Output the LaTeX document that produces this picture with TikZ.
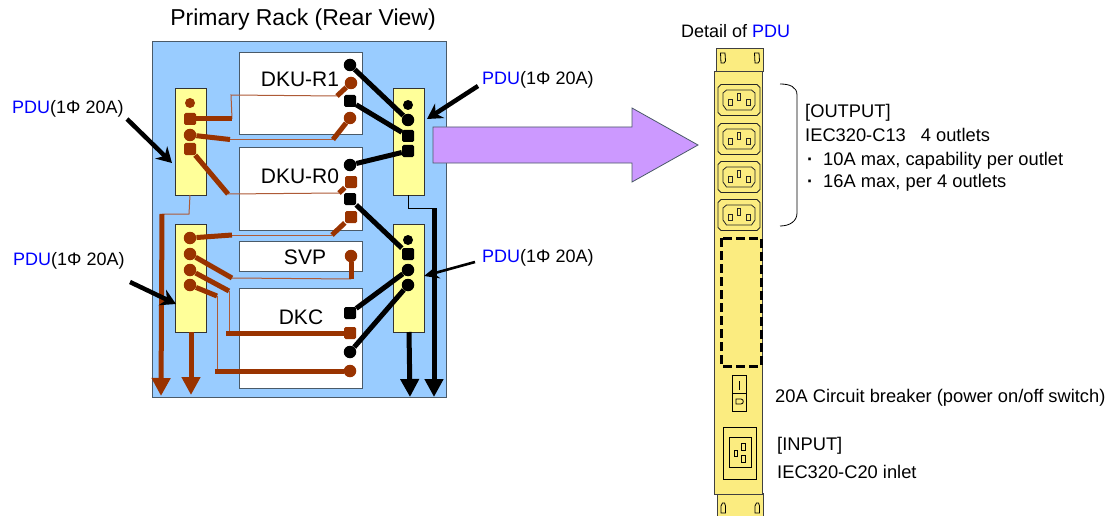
\documentclass[tikz,border=0pt]{standalone}
\usepackage{fontspec}
\setmainfont{Liberation Sans}
\usetikzlibrary{arrows.meta}
\definecolor{rackblue}{HTML}{99CCFF}
\definecolor{pduyel}{HTML}{FFFF99}
\definecolor{detyel}{HTML}{FBEC80}
\definecolor{brn}{HTML}{993300}
\definecolor{thinbrn}{HTML}{AE5A36}
\definecolor{arrowpur}{HTML}{CC99FF}
\definecolor{edgegray}{HTML}{4A5A68}
\definecolor{pdublue}{HTML}{0000FF}
\newcommand{\pdulab}{\textcolor{pdublue}{PDU}(1Φ 20A)}
\newcommand{\dotitem}[1]{\makebox[18pt][l]{\hspace{2pt}\bfseries ·}#1}
\newcommand{\outletshape}[1]{%
  \begin{scope}[shift={(739,#1)},line width=0.8pt,draw=black!85]
    \draw (-18,-15.5) -- (18,-15.5) -- (21,-12.5) -- (21,12.5) -- (18,15.5) -- (-18,15.5) -- (-21,12.5) -- (-21,-12.5) -- cycle;
    \draw (-12.5,-10) -- (12.5,-10) -- (16,-7) -- (16,5) -- (12.5,10) -- (-12.5,10) -- (-16,5) -- (-16,-7) -- cycle;
    \draw (-11,-0.5) rectangle (-7,5);
    \draw (-1.5,-7) rectangle (1.5,0);
    \draw (7,-0.5) rectangle (11,5);
  \end{scope}}
\tikzset{
  x=1pt,y=-1pt,
  box/.style={draw=edgegray,line width=0.9pt,fill=white},
  pdubox/.style={draw=black!80,line width=0.9pt,fill=pduyel},
  lab/.style={inner sep=0pt,font=\fontsize{18}{18}\selectfont},
  biglab/.style={inner sep=0pt,font=\fontsize{21}{21}\selectfont},
  titlelab/.style={inner sep=0pt,font=\fontsize{23}{23}\selectfont},
  dettxt/.style={inner sep=0pt,anchor=west,font=\fontsize{18.3}{18.3}\selectfont},
  brnplug/.style={circle,fill=brn,inner sep=0pt,minimum size=12.5pt},
  brnsq/.style={rectangle,rounded corners=1.5pt,fill=brn,inner sep=0pt,minimum size=12pt},
  blkplug/.style={circle,fill=black,inner sep=0pt,minimum size=12.5pt},
  blksq/.style={rectangle,rounded corners=1.5pt,fill=black,inner sep=0pt,minimum size=12pt},
  bthick/.style={draw=brn,line width=5pt},
  bthin/.style={draw=thinbrn,line width=1pt},
  kthick/.style={draw=black,line width=5pt},
  kthin/.style={draw=black,line width=1pt},
  bdown/.style={draw=brn,line width=5pt,-{Triangle[width=18pt,length=18pt]}},
  kdown/.style={draw=black,line width=5pt,-{Triangle[width=18pt,length=18pt]}},
  lead/.style={draw=black,line width=4.5pt,-{Stealth[width=17pt,length=15pt]}},
  leadthin/.style={draw=black,line width=2.6pt,-{Stealth[width=13pt,length=15pt]}},
}
\begin{document}
\begin{tikzpicture}
\useasboundingbox (0,0) rectangle (1116,516);
% rack
\node[titlelab] (title) at (303,20) {Primary Rack (Rear View)};
\filldraw[fill=rackblue,draw=edgegray,line width=1pt] (152,42) rectangle (446,397);
\draw[box] (239,52) rectangle (362,134);
\draw[box] (239,147) rectangle (362,230);
\draw[box] (239,241) rectangle (362,271);
\draw[box] (239,288) rectangle (362,388);
\node[biglab] (dkur1) at (300,79) {DKU-R1};
\node[biglab] (dkur0) at (300,176) {DKU-R0};
\node[biglab] (svp) at (305,257) {SVP};
\node[biglab] (dkc) at (301,317) {DKC};
% PDUs
\draw[pdubox] (175,88) rectangle (206,195);
\draw[pdubox] (175,224) rectangle (206,332);
\draw[pdubox] (393,88) rectangle (424,195);
\draw[pdubox] (393,224) rectangle (424,332);
\coordinate (ltb) at (190,195);
\coordinate (lbb) at (191,332);
\coordinate (rtb) at (408,195);
\coordinate (rbb) at (409,332);
% plugs: left top
\node[brnplug,minimum size=10pt] (lt0) at (190,103) {};
\node[brnsq] (lt1) at (190,119) {};
\node[brnplug] (lt2) at (190,135) {};
\node[brnsq] (lt3) at (190,149) {};
% left bottom
\node[brnplug] (lb0) at (190,238) {};
\node[brnplug] (lb1) at (190,254) {};
\node[brnplug] (lb2) at (190,270) {};
\node[brnplug] (lb3) at (190,285) {};
% right top
\node[blkplug,minimum size=10pt] (rt0) at (408,105) {};
\node[blkplug] (rt1) at (408,120) {};
\node[blksq] (rt2) at (408,136) {};
\node[blksq] (rt3) at (408,151) {};
% right bottom
\node[blkplug,minimum size=10pt] (rb0) at (408,240) {};
\node[blksq] (rb1) at (408,254) {};
\node[blkplug] (rb2) at (408,270) {};
\node[blkplug] (rb3) at (408,285) {};
% device plugs
\node[blkplug] (r1a) at (350,65) {};
\node[brnplug] (r1b) at (351,83) {};
\node[blksq] (r1c) at (350,101) {};
\node[brnplug] (r1d) at (350,118) {};
\node[blkplug] (r0a) at (350,165) {};
\node[brnsq] (r0b) at (351,182) {};
\node[blksq] (r0c) at (350,199) {};
\node[brnsq] (r0d) at (351,217) {};
\node[brnplug] (sv) at (351,256) {};
\node[blksq] (dk1) at (350,313) {};
\node[brnsq] (dk2) at (350,333) {};
\node[blkplug] (dk3) at (350,352) {};
\node[brnplug] (dk4) at (350,371) {};
% black cords
\draw[kthick] (r1a) -- (rt1);
\draw[kthick] (r1c) -- (rt2);
\draw[kthick] (r0a) -- (rt3);
\draw[kthick] (r0c) -- (rb1);
\draw[kthick] (dk1) -- (rb2);
\draw[kthick] (dk3) -- (rb3);
% brown routed cords
\coordinate (a1) at (232,119); \coordinate (a2) at (231,95); \coordinate (a3) at (337,96);
\draw[bthin] (a1) -- (a2) -- (a3);
\draw[bthick] (lt1) -- (a1);
\draw[bthick] (a3) -- (r1b);
\coordinate (b1) at (230,139.5); \coordinate (b2) at (333,139.5);
\draw[bthin] (b1) -- (b2);
\draw[bthick] (lt2) -- (b1);
\draw[bthick] (b2) -- (r1d);
\coordinate (c1) at (228,194); \coordinate (c2) at (339,193);
\draw[bthin] (c1) -- (c2);
\draw[bthick] (lt3) -- (c1);
\draw[bthick] (c2) -- (r0b);
\coordinate (d1) at (232,235); \coordinate (d2) at (332,235);
\draw[bthin] (d1) -- (d2);
\draw[bthick] (lb0) -- (d1);
\draw[bthick] (d2) -- (r0d);
\coordinate (e1) at (232,278); \coordinate (e2) at (351,279);
\draw[bthin] (e1) -- (e2);
\draw[bthick] (lb1) -- (e1);
\draw[bthick] (e2) -- (sv);
\coordinate (f1) at (229,291); \coordinate (f2) at (229,333);
\draw[bthin] (f1) -- (f2);
\draw[bthick] (lb2) -- (f1);
\draw[bthick] (226,333) -- (dk2);
\coordinate (g1) at (217,296); \coordinate (g2) at (217,371);
\draw[bthin] (g1) -- (g2);
\draw[bthick] (lb3) -- (g1);
\draw[bthick] (215,371) -- (dk4);
% feeds
\coordinate (h1) at (189,214); \coordinate (h2) at (162,214); \coordinate (h3) at (161,396);
\draw[bthin] (ltb) -- (h1) -- (h2);
\draw[bdown] (h2) -- (h3);
\coordinate (i1) at (191,395);
\draw[bdown] (lbb) -- (i1);
\coordinate (j1) at (408,208); \coordinate (j2) at (434,208); \coordinate (j3) at (434,397);
\draw[kthin] (rtb) -- (j1) -- (j2);
\draw[kdown] (j2) -- (j3);
\coordinate (k1) at (410,397);
\draw[kdown] (rbb) -- (k1);
% labels
\node[lab,anchor=west] (l1) at (12,109) {\pdulab};
\node[lab,anchor=west] (l2) at (482,80) {\pdulab};
\node[lab,anchor=west] (l3) at (13,261) {\pdulab};
\node[lab,anchor=west] (l4) at (482,258) {\pdulab};
\coordinate (l1s) at (127,119); \coordinate (l1t) at (172,163);
\coordinate (l2s) at (478,86); \coordinate (l2t) at (427,119);
\coordinate (l3s) at (130,282); \coordinate (l3t) at (176,304);
\coordinate (l4s) at (475,262); \coordinate (l4t) at (424,276);
\draw[lead] (l1s) -- (l1t);
\draw[lead] (l2s) -- (l2t);
\draw[lead] (l3s) -- (l3t);
\draw[leadthin] (l4s) -- (l4t);
% big arrow
\filldraw[fill=arrowpur,draw=edgegray,line width=0.8pt] (433,127) -- (632,127) -- (632,108) -- (698,145) -- (632,182) -- (632,163) -- (433,163) -- cycle;
% detail
\node[lab,anchor=west] (dt) at (681,31) {Detail of \textcolor{pdublue}{PDU}};
\filldraw[fill=detyel,draw=black!75,line width=0.7pt] (716,48) rectangle (763,71);
\filldraw[fill=detyel,draw=black!75,line width=0.7pt] (717,493) -- (717,516) -- (763,516) -- (763,493);
\filldraw[fill=detyel,draw=black!75,line width=0.8pt] (714,71) rectangle (762,494);
\foreach \sx in {720.5,754.5}{
  \draw[line width=0.8pt] (\sx,53) -- (\sx+4.5,53) -- (\sx+5,61) -- (\sx+3.5,63) -- (\sx+0.5,63) -- cycle;
  \draw[line width=0.8pt] (\sx+0.5,513) -- (\sx+0.5,506) -- (\sx+2,503) -- (\sx+4,503) -- (\sx+5,506) -- (\sx+5,513) -- cycle;
}
\outletshape{100}
\outletshape{139}
\outletshape{177}
\outletshape{215}
\draw[line width=3pt,dash pattern=on 9pt off 4pt] (721,238) rectangle (761,366);
% breaker
\draw[line width=0.8pt] (732,375) rectangle (746,411);
\draw[line width=0.8pt] (732,393) -- (746,393);
\draw[line width=0.8pt] (739,381) -- (739,390);
\draw[line width=0.8pt] (736,399) -- (741,399) .. controls (744,399) and (744,404) .. (741,404) -- (736,404) -- cycle;
% inlet
\draw[line width=0.8pt] (723,427) rectangle (756,479);
\draw[line width=0.8pt] (729,437) rectangle (751,467);
\draw[line width=0.8pt] (741,443) rectangle (745,450);
\draw[line width=0.8pt] (741,455) rectangle (745,462);
\draw[line width=0.8pt] (734,450) rectangle (737.5,456);
% bracket
\draw[line width=0.8pt] (780,84) .. controls (790,84) and (797,87) .. (797,95) -- (797,213) .. controls (797,221) and (790,226) .. (780,226);
% detail text
\node[dettxt] (o1) at (805,113) {[OUTPUT]};
\node[dettxt] (o2) at (805,135) {IEC320-C13\hspace{15pt}4 outlets};
\node[dettxt] (o3) at (805,161) {\dotitem{10A max, capability per outlet}};
\node[dettxt] (o4) at (805,183) {\dotitem{16A max, per 4 outlets}};
\node[dettxt] (cb) at (775,398) {20A Circuit breaker (power on/off switch)};
\node[dettxt] (in1) at (777,446) {[INPUT]};
\node[dettxt] (in2) at (777,472) {IEC320-C20 inlet};
\end{tikzpicture}
\end{document}
